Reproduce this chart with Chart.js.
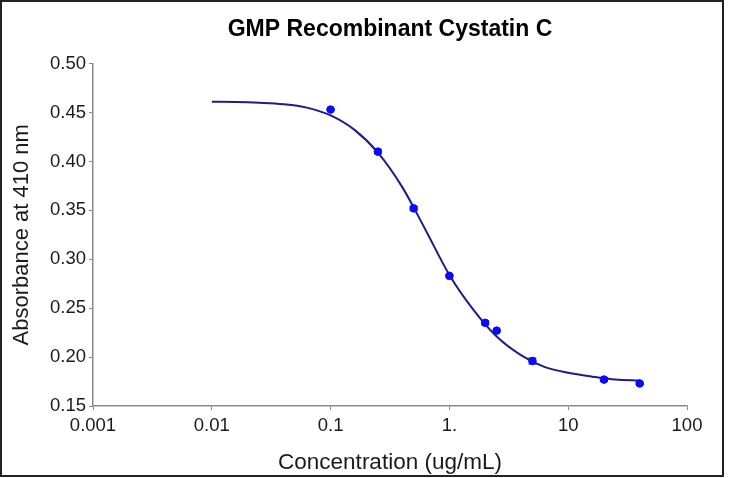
<!DOCTYPE html>
<html>
<head>
<meta charset="utf-8">
<script src="https://cdn.jsdelivr.net/npm/chart.js@4/dist/chart.umd.min.js"></script>
<style>
  html, body { margin: 0; padding: 0; background: #fff; }
  #wrap { position: relative; width: 730px; height: 478px; }
  #frame { position: absolute; left: 0; top: 0; width: 724px; height: 477px; box-sizing: border-box; border: 2px solid #222; pointer-events: none; }
  canvas { position: absolute; left: 0; top: 0; }
</style>
</head>
<body>
<div id="wrap">
  <canvas id="c" width="730" height="478"></canvas>
  <div id="frame"></div>
</div>
<script>
// Measured points
const concentrations = [0.1, 0.25, 0.5, 1, 2, 2.5, 5, 20, 40];
const absorbance = [0.453, 0.410, 0.352, 0.283, 0.235, 0.227, 0.196, 0.177, 0.173];
const errors = [0.001, 0.002, 0.002, 0.001, 0.002, 0.001, 0.003, 0.002, 0.001];

// Fitted curve
const curveX = [0.01, 0.016, 0.025, 0.04, 0.063, 0.1, 0.16, 0.25, 0.4, 0.63, 1, 1.6, 2.5, 4, 6.3, 10, 16, 25, 40];
const curveY = [0.461, 0.4608, 0.4600, 0.4585, 0.455, 0.447, 0.432, 0.409, 0.374, 0.330, 0.284, 0.248, 0.221, 0.202, 0.190, 0.184, 0.180, 0.177, 0.176];

// Axis ticks
const xTickValues = [0.001, 0.01, 0.1, 1, 10, 100];
const xTickLabels = ["0.001", "0.01", "0.1", "1.", "10", "100"];
const yTickValues = [0.15, 0.20, 0.25, 0.30, 0.35, 0.40, 0.45, 0.50];

const titleText = "GMP Recombinant Cystatin C";
const xTitle = "Concentration (ug/mL)";
const yTitle = "Absorbance at 410 nm";

const FONT = "'Liberation Sans', Arial, sans-serif";
const axisGrey = '#8a8a8a';
const textColor = '#1a1a1a';

const errorBars = {
  id: 'errorBars',
  beforeDatasetsDraw(chart) {
    const ctx = chart.ctx;
    const xs = chart.scales.x, ys = chart.scales.y;
    ctx.save();
    ctx.strokeStyle = '#111';
    ctx.lineWidth = 1;
    concentrations.forEach((c, i) => {
      const px = xs.getPixelForValue(c);
      const yTop = ys.getPixelForValue(absorbance[i] + errors[i]);
      const yBot = ys.getPixelForValue(absorbance[i] - errors[i]);
      ctx.beginPath();
      ctx.moveTo(px, yTop); ctx.lineTo(px, yBot);
      ctx.moveTo(px - 4, yTop); ctx.lineTo(px + 4, yTop);
      ctx.moveTo(px - 4, yBot); ctx.lineTo(px + 4, yBot);
      ctx.stroke();
    });
    ctx.restore();
  }
};

new Chart(document.getElementById('c'), {
  type: 'scatter',
  data: {
    datasets: [
      {
        type: 'line',
        data: curveX.map((x, i) => ({x: x, y: curveY[i]})),
        borderColor: '#1c1c8c',
        borderWidth: 2,
        pointRadius: 0,
        fill: false,
        cubicInterpolationMode: 'monotone',
        order: 2
      },
      {
        type: 'scatter',
        data: concentrations.map((x, i) => ({x: x, y: absorbance[i]})),
        backgroundColor: '#0a0aff',
        borderColor: '#0a0aff',
        pointRadius: 3.8,
        pointHoverRadius: 3.8,
        order: 1
      }
    ]
  },
  options: {
    responsive: false,
    animation: false,
    devicePixelRatio: 1,
    layout: { padding: { left: 0, right: 43, top: 0, bottom: 0 } },
    plugins: {
      legend: { display: false },
      tooltip: { enabled: false },
      title: {
        display: true,
        fullSize: false,
        text: titleText,
        color: '#000',
        font: { family: FONT, size: 23, weight: 'bold' },
        padding: { top: 16, bottom: 20 }
      }
    },
    scales: {
      x: {
        type: 'logarithmic',
        min: 0.001,
        max: 100,
        afterBuildTicks(scale) { scale.ticks = xTickValues.map(v => ({value: v})); },
        afterFit(scale) { scale.height = 72; },
        ticks: {
          color: textColor,
          font: { family: FONT, size: 18.5 },
          padding: 5,
          maxRotation: 0,
          autoSkip: false,
          callback(value) {
            const i = xTickValues.findIndex(v => Math.abs(Math.log10(v) - Math.log10(value)) < 1e-6);
            return i >= 0 ? xTickLabels[i] : '';
          }
        },
        grid: { display: true, drawOnChartArea: false, drawTicks: true, tickLength: 4, color: axisGrey },
        border: { display: true, color: axisGrey, width: 1.5 },
        title: {
          display: true,
          text: xTitle,
          color: textColor,
          font: { family: FONT, size: 22.5 },
          padding: { top: 0, bottom: 1.5 }
        }
      },
      y: {
        type: 'linear',
        min: 0.15,
        max: 0.50,
        afterBuildTicks(scale) { scale.ticks = yTickValues.map(v => ({value: v})); },
        afterFit(scale) { scale.width = 93; },
        ticks: {
          color: textColor,
          font: { family: FONT, size: 18.5 },
          padding: 3,
          callback(value) { return Number(value).toFixed(2); }
        },
        grid: { display: true, drawOnChartArea: false, drawTicks: true, tickLength: 4, color: axisGrey },
        border: { display: true, color: axisGrey, width: 1.5 },
        title: {
          display: true,
          text: yTitle,
          color: textColor,
          font: { family: FONT, size: 22 },
          padding: { top: 9, bottom: 0 }
        }
      }
    }
  },
  plugins: [errorBars]
});
</script>
</body>
</html>
